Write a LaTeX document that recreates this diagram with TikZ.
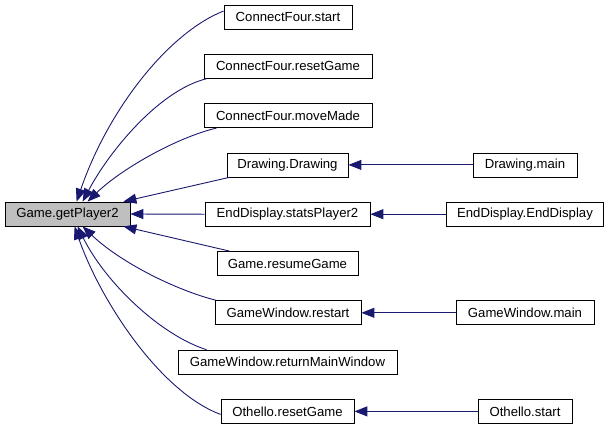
\documentclass[tikz,border=0pt]{standalone}
\usepackage{fontspec}
\setmainfont{Liberation Sans}
\usetikzlibrary{arrows.meta,calc}
\definecolor{edgeblue}{HTML}{191970}
\definecolor{focusgray}{HTML}{BFBFBF}
\begin{document}
\begin{tikzpicture}[x=1bp,y=-1bp,
  fn/.style={draw=black,line width=0.8bp,fill=white,inner sep=0pt,minimum height=24bp,
    font=\fontsize{13.2}{15}\selectfont},
  focus/.style={fn,fill=focusgray},
  edge/.style={draw=edgeblue,line width=0.9bp,-{Triangle[length=13bp,width=10bp]}},
]
\useasboundingbox (0,0) rectangle (611,429);
% nodes
\node[focus,minimum width=125bp] (gp) at (67.5,214) {Game.getPlayer2};
\node[fn,minimum width=128bp] (cfs) at (288,17) {ConnectFour.start};
\node[fn,minimum width=168bp] (cfr) at (288,66.3) {ConnectFour.resetGame};
\node[fn,minimum width=168bp] (cfm) at (288,115.6) {ConnectFour.moveMade};
\node[fn,minimum width=121bp] (dd) at (287.5,164.9) {Drawing.Drawing};
\node[fn,minimum width=165bp] (eds) at (287.5,214.2) {EndDisplay.statsPlayer2};
\node[fn,minimum width=141bp] (grg) at (287.5,263.5) {Game.resumeGame};
\node[fn,minimum width=146bp] (gwr) at (288,312.8) {GameWindow.restart};
\node[fn,minimum width=219bp] (gwm) at (287.5,362.1) {GameWindow.returnMainWindow};
\node[fn,minimum width=133bp] (orr) at (287.5,411.4) {Othello.resetGame};
\node[fn,minimum width=104bp] (dm) at (525,164.9) {Drawing.main};
\node[fn,minimum width=157bp] (ede) at (525,214.2) {EndDisplay.EndDisplay};
\node[fn,minimum width=138bp] (gwmain) at (525,312.8) {GameWindow.main};
\node[fn,minimum width=94bp] (os) at (525,411.4) {Othello.start};
% edges into Game.getPlayer2
\draw[edge] ([yshift=6bp]cfs.west) .. controls (168,33) and (108,110) .. ($(gp.north west)+(72,0)$);
\draw[edge] ([xshift=3bp]cfr.south west) .. controls (160,90) and (110,150) .. ($(gp.north west)+(78,0)$);
\draw[edge] ([xshift=13bp]cfm.south west) .. controls (175,138) and (120,170) .. ($(gp.north west)+(83,0)$);
\draw[edge] ([xshift=3bp]dd.south west) -- ($(gp.north east)+(-7,0)$);
\draw[edge] (eds.west) -- (gp.east);
\draw[edge] ([xshift=13bp]grg.north west) -- ($(gp.south east)+(-7,0)$);
\draw[edge] ([xshift=2bp]gwr.north west) .. controls (175,290) and (120,262) .. ($(gp.south west)+(78,0)$);
\draw[edge] ([xshift=29bp]gwm.north west) .. controls (160,335) and (105,282) .. ($(gp.south west)+(73,0)$);
\draw[edge] ([yshift=-3bp]orr.west) .. controls (160,392) and (100,300) .. ($(gp.south west)+(70,0)$);
% right column edges
\draw[edge] (dm.west) -- (dd.east);
\draw[edge] (ede.west) -- (eds.east);
\draw[edge] (gwmain.west) -- (gwr.east);
\draw[edge] (os.west) -- (orr.east);
\end{tikzpicture}
\end{document}
